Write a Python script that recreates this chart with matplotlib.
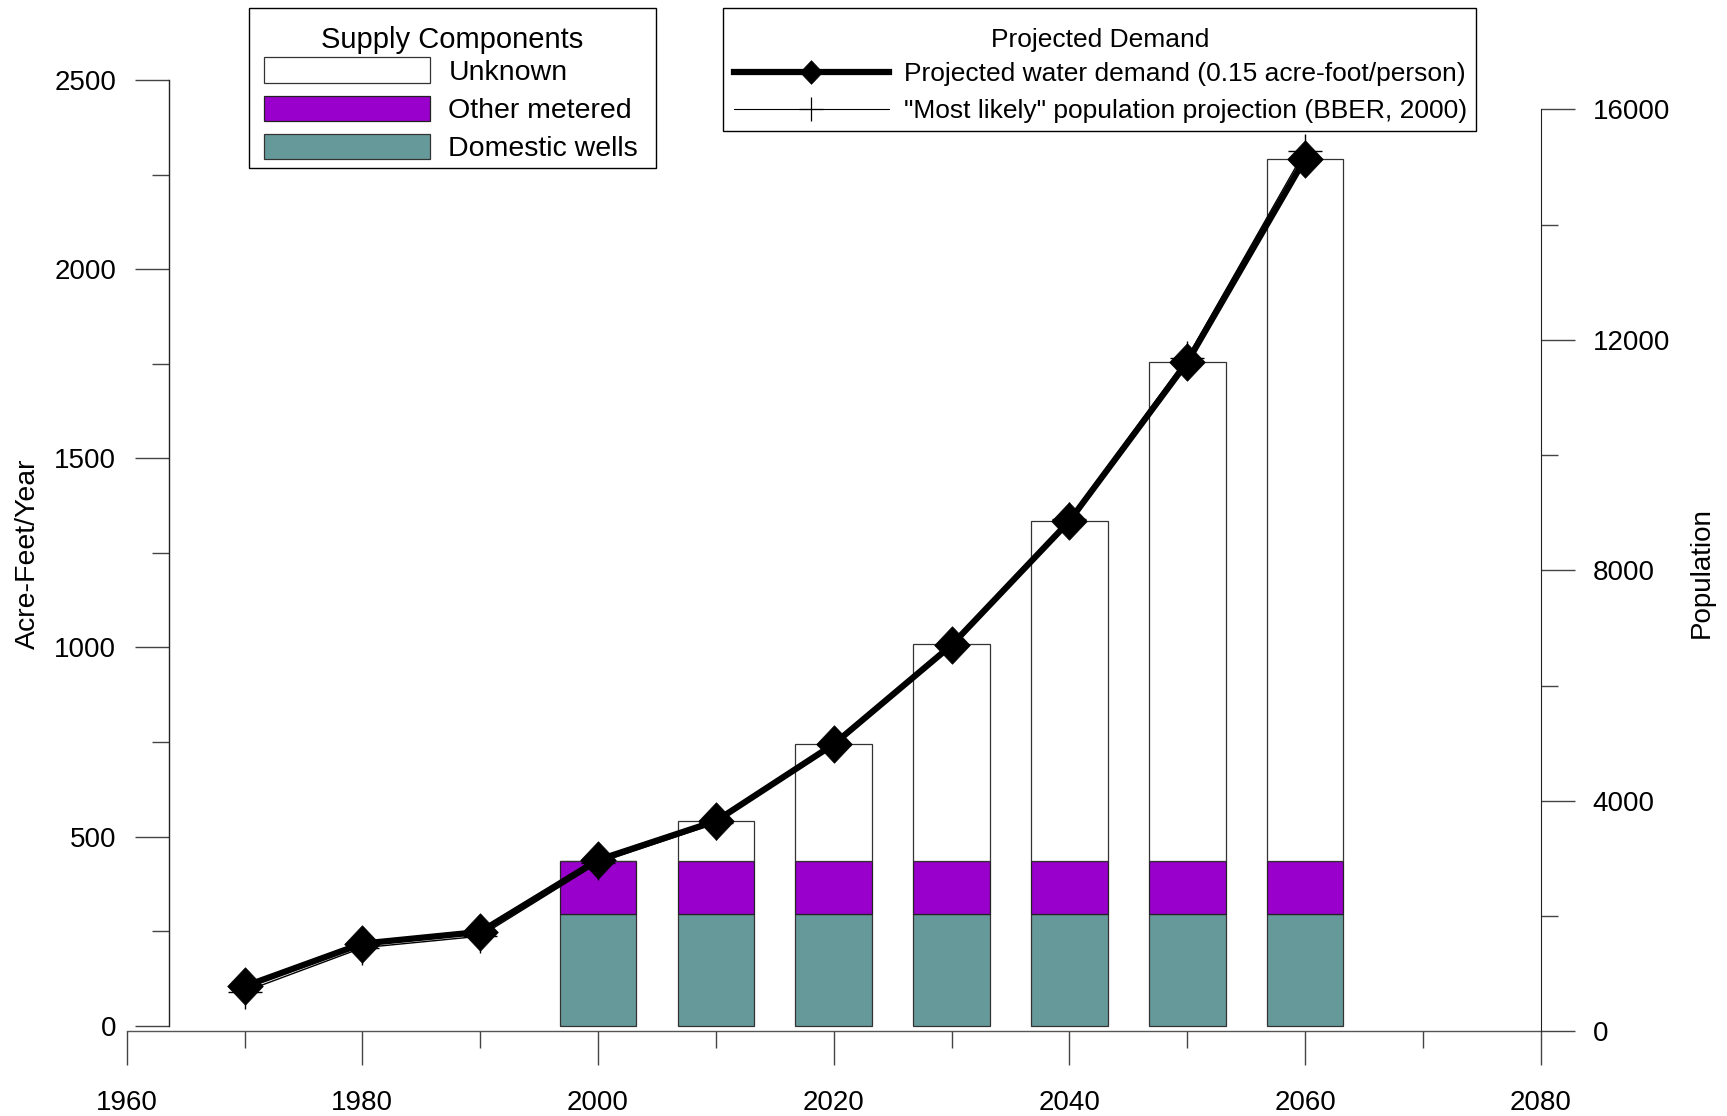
import matplotlib
matplotlib.use("Agg")
import matplotlib.pyplot as plt
from matplotlib.patches import Patch, Rectangle
from matplotlib.lines import Line2D
from matplotlib.path import Path
from matplotlib.ticker import MultipleLocator

plt.rcParams["font.family"] = ["Liberation Sans", "DejaVu Sans"]

# Population projection and the water demand it implies (0.15 acre-ft/person)
years = [1970, 1980, 1990, 2000, 2010, 2020, 2030, 2040, 2050, 2060]
population = [690, 1450, 1650, 2920, 3610, 4960, 6710, 8890, 11690, 15280]
demand = [104, 217, 248, 438, 541, 744, 1006, 1334, 1754, 2292]

# Supply components (acre-feet/year)
bar_years = [2000, 2010, 2020, 2030, 2040, 2050, 2060]
domestic_wells = [295, 295, 295, 295, 295, 295, 295]
other_metered = [141, 141, 141, 141, 141, 141, 141]
unknown = [0, 106, 309, 572, 899, 1319, 1856]

supply_labels = ["Unknown", "Other metered", "Domestic wells"]
demand_labels = ["Projected water demand (0.15 acre-foot/person)",
                 "\"Most likely\" population projection (BBER, 2000)"]

TEAL = "#669999"
PURPLE = "#9900cc"
TICK_C = "#444444"
FS = 20

W, H = 1727, 1116
fig = plt.figure(figsize=(W / 100, H / 100), dpi=100)
ax = fig.add_axes([0.07336, 0.0759, 0.81877, 0.85242])
ax.set_xlim(1960, 2080)
ax.set_ylim(-14.8, 2500)

# stacked supply bars
bw = 6.5
lo2 = [d + o for d, o in zip(domestic_wells, other_metered)]
ax.bar(bar_years, domestic_wells, width=bw, color=TEAL, edgecolor="#333333",
       linewidth=0.9, zorder=2)
ax.bar(bar_years, other_metered, width=bw, bottom=domestic_wells, color=PURPLE,
       edgecolor="#222222", linewidth=0.9, zorder=2)
ax.bar(bar_years, unknown, width=bw, bottom=lo2, color="white",
       edgecolor="#333333", linewidth=0.9, zorder=2)

# diamond marker, slightly taller than wide
diamond = Path([(0, 1), (0.95, 0), (0, -1), (-0.95, 0), (0, 1)],
               [Path.MOVETO, Path.LINETO, Path.LINETO, Path.LINETO, Path.CLOSEPOLY])

ax.plot(years, demand, color="black", lw=4.5, marker=diamond, ms=27,
        mfc="black", mec="black", mew=0.5, zorder=4, clip_on=False)

# axes styling
for s in ("top", "right"):
    ax.spines[s].set_visible(False)
ax.spines["left"].set_position(("data", 1963.6))
ax.spines["left"].set_bounds(0, 2500)
ax.spines["left"].set_color("#222222")
ax.spines["bottom"].set_color("#555555")
ax.spines["left"].set_linewidth(1.0)
ax.spines["bottom"].set_linewidth(1.0)

ax.xaxis.set_major_locator(MultipleLocator(20))
ax.xaxis.set_minor_locator(MultipleLocator(10))
ax.yaxis.set_major_locator(MultipleLocator(500))
ax.yaxis.set_minor_locator(MultipleLocator(250))
ax.tick_params(axis="x", which="major", direction="out", length=24.5, width=1,
               color=TICK_C, pad=18, labelsize=FS)
ax.tick_params(axis="x", which="minor", direction="out", length=12.5, width=1,
               color=TICK_C)
ax.tick_params(axis="y", which="major", direction="out", length=24.5, width=1,
               color=TICK_C, pad=13.5, labelsize=FS)
ax.tick_params(axis="y", which="minor", direction="out", length=12, width=1,
               color=TICK_C)

# population on the right-hand axis
tw = ax.twinx()
tw.set_ylim(0, 16508)
tw.plot(years, population, color="black", lw=1.0, marker="+", ms=25, mew=1.0,
        zorder=3, clip_on=False)
for s in ("top", "left", "bottom"):
    tw.spines[s].set_visible(False)
tw.spines["right"].set_bounds(0, 16000)
tw.spines["right"].set_color("#222222")
tw.yaxis.set_major_locator(MultipleLocator(4000))
tw.yaxis.set_minor_locator(MultipleLocator(2000))
tw.tick_params(axis="y", which="major", direction="out", length=24.5, width=1,
               color=TICK_C, pad=13, labelsize=FS)
tw.tick_params(axis="y", which="minor", direction="out", length=12, width=1,
               color=TICK_C)

fig.text(28 / W, 1 - 554 / H, "Acre-Feet/Year", rotation=90,
         ha="center", va="center", fontsize=20.5)
fig.text(1702 / W, 1 - 573 / H, "Population", rotation=90,
         ha="center", va="center", fontsize=FS)


def boxed_title(x0, y0, x1, y1, title, tx, ty, size):
    """Frame drawn in pixel units of the figure, with a centred heading."""
    fig.patches.append(Rectangle((x0 / W, 1 - y1 / H), (x1 - x0) / W,
                                 (y1 - y0) / H, transform=fig.transFigure,
                                 facecolor="white", edgecolor="black",
                                 linewidth=1.0, zorder=5))
    fig.text(tx / W, 1 - ty / H, title, ha="center", va="baseline",
             fontsize=size, zorder=6)


# legend: supply components
boxed_title(249, 8, 656, 168, "Supply Components", 452, 48, 21)
supply_handles = [
    Patch(facecolor="white", edgecolor="#333333", linewidth=0.9),
    Patch(facecolor=PURPLE, edgecolor="#222222", linewidth=0.9),
    Patch(facecolor=TEAL, edgecolor="#333333", linewidth=0.9),
]
leg1 = fig.legend(supply_handles, supply_labels, loc="upper left",
                  bbox_to_anchor=(264 / W, 1 - 57.5 / H), borderaxespad=0,
                  borderpad=0, fontsize=20.5, frameon=False,
                  handlelength=5.83, handleheight=1.02, handletextpad=0.65,
                  labelspacing=0.33)
leg1.set_zorder(7)

# legend: projected demand
boxed_title(723, 8, 1476, 131, "Projected Demand", 1100, 47, 19)
demand_handles = [
    Line2D([], [], color="black", lw=4.5, marker=diamond, ms=17, mfc="black",
           mec="black", mew=0.5),
    Line2D([], [], color="black", lw=0.8, marker="+", ms=17, mew=0.9),
]
leg2 = fig.legend(demand_handles, demand_labels, loc="upper left",
                  bbox_to_anchor=(734 / W, 1 - 62.5 / H), borderaxespad=0,
                  borderpad=0, fontsize=19, frameon=False,
                  handlelength=5.87, handletextpad=0.565, labelspacing=0.49)
leg2.set_zorder(7)

fig.savefig("out.png", dpi=100)
